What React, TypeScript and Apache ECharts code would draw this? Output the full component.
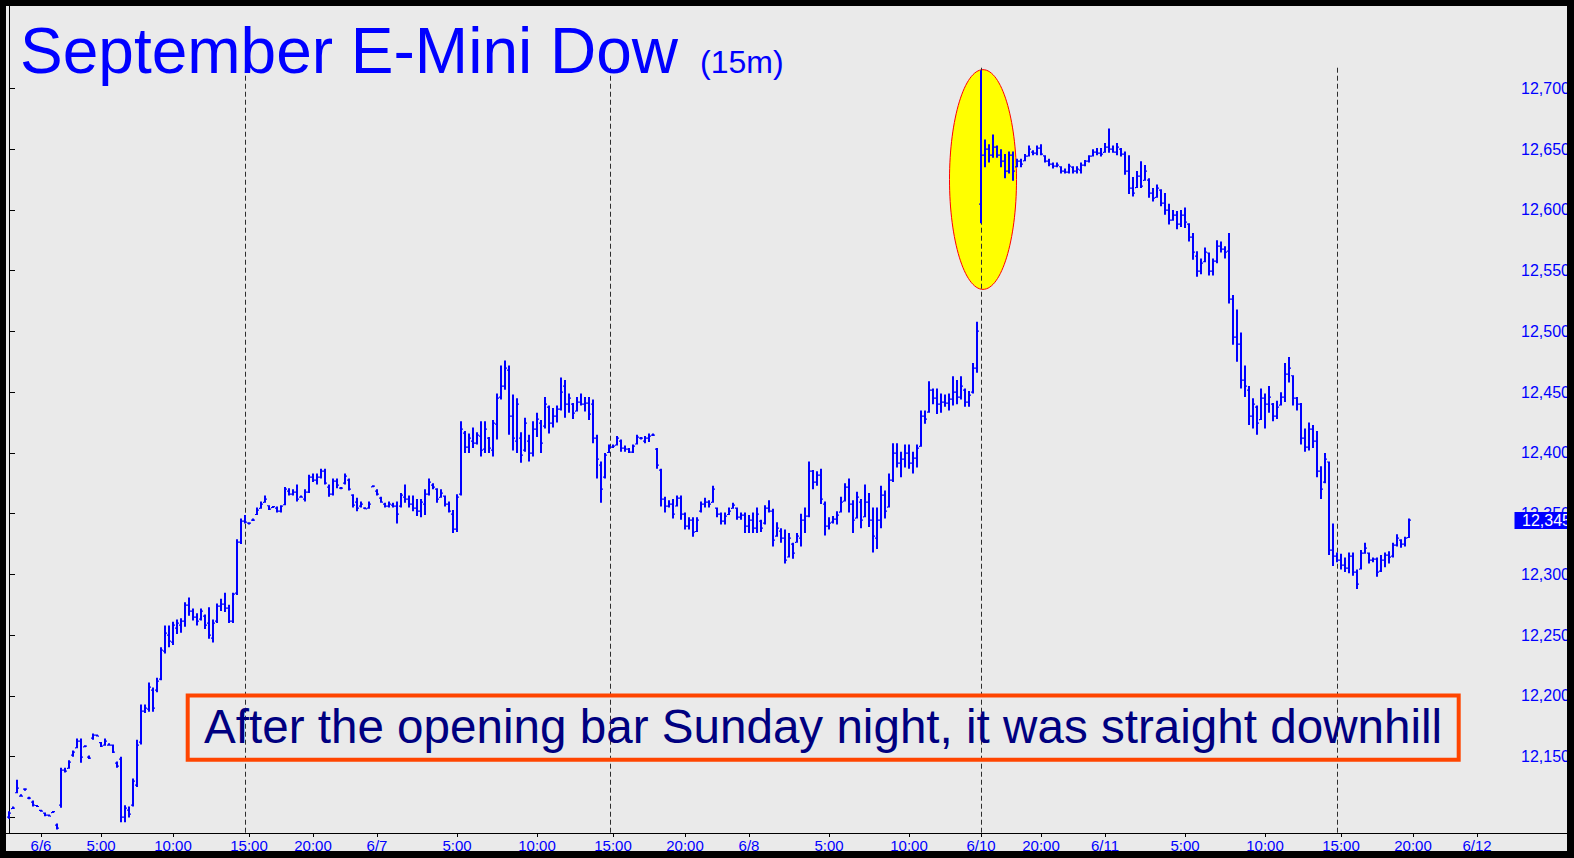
import React, { useEffect, useRef } from "react";
import * as echarts from "echarts";

// OHLC bars, 15-minute slots: [open, high, low, close]
const jun6Bars: number[][] = [
  [12100,12105,12099,12104],[12107,12109,12107,12108],[12120,12131,12120,12124],[12118,12119,12117,12118],
  [12123,12124,12122,12123],[12116,12117,12115,12116],[12113,12114,12109,12110],[12110,12110,12109,12109],
  [12106,12106,12105,12105],[12104,12104,12101,12102],[12102,12102,12101,12101],[12104,12105,12104,12105],
  [12094,12095,12090,12091],[12110,12141,12108,12139],[12139,12141,12137,12138],[12140,12147,12140,12146],
  [12151,12155,12150,12154],[12157,12165,12157,12163],[12163,12165,12145,12150],[12158,12159,12158,12159],
  [12150,12151,12148,12149],[12165,12169,12164,12168],[12168,12168,12167,12167],[12162,12162,12158,12159],
  [12160,12165,12159,12163],[12160,12161,12159,12160],[12160,12160,12153,12154],[12145,12146,12141,12142],
  [12148,12150,12096,12100],[12100,12110,12096,12108],[12106,12109,12100,12103],[12110,12132,12109,12130],
  [12127,12164,12125,12160],[12162,12193,12160,12188],[12188,12193,12186,12190],[12189,12211,12187,12207],
  [12205,12207,12187,12190],[12205,12215,12203,12212],[12214,12240,12213,12238],[12237,12258,12235,12252],
  [12250,12258,12240,12245],[12244,12261,12242,12258],[12256,12263,12251,12260],[12258,12264,12252,12262],
  [12262,12277,12257,12275],[12275,12281,12266,12270],[12270,12272,12262,12265],[12265,12268,12258,12262],
  [12263,12272,12262,12270],[12266,12267,12255,12258],[12260,12273,12247,12250],[12248,12263,12244,12260],
  [12262,12276,12260,12274],[12274,12280,12270,12276],[12276,12285,12269,12272],[12272,12275,12260,12262],
  [12262,12285,12260,12284],[12285,12329,12283,12327],[12327,12346,12325,12344],[12344,12349,12342,12343],
  [12342,12343,12341,12342],[12345,12346,12344,12345],[12349,12355,12349,12353],[12354,12360,12354,12358],
  [12359,12365,12359,12362],[12357,12357,12353,12354],[12355,12356,12355,12356],[12355,12356,12351,12352],
  [12352,12357,12351,12356],[12357,12372,12357,12370],[12369,12371,12365,12366],[12366,12370,12365,12368],
  [12368,12374,12360,12362],[12364,12365,12363,12364],[12362,12370,12360,12368],[12368,12382,12367,12380],
  [12380,12383,12376,12378],[12378,12383,12374,12380],[12380,12387,12379,12385],[12385,12387,12374,12375],
  [12372,12374,12364,12366],[12366,12379,12365,12377],[12377,12379,12371,12374],[12371,12372,12370,12371],
  [12375,12383,12374,12381],[12378,12379,12369,12370],[12365,12366,12355,12357],[12360,12363,12352,12355],
  [12356,12360,12355,12358],[12355,12355,12354,12354],[12355,12360,12354,12358],[12372,12373,12372,12373],
];

const jun7Bars: number[][] = [
  [12369,12370,12365,12366],[12363,12364,12359,12360],[12358,12359,12355,12356],[12356,12360,12355,12358],
  [12357,12359,12355,12356],[12356,12360,12342,12350],[12356,12367,12355,12365],[12364,12374,12359,12362],
  [12362,12365,12355,12358],[12358,12365,12352,12355],[12355,12362,12348,12352],[12352,12362,12347,12360],
  [12358,12370,12349,12366],[12366,12379,12365,12376],[12374,12375,12370,12372],[12370,12371,12359,12362],
  [12363,12370,12363,12367],[12365,12365,12356,12358],[12358,12360,12351,12352],[12350,12353,12334,12337],
  [12337,12366,12335,12364],[12366,12426,12365,12420],[12416,12418,12400,12405],[12405,12416,12400,12412],
  [12410,12421,12404,12408],[12408,12417,12407,12415],[12414,12426,12397,12402],[12403,12426,12400,12420],
  [12412,12413,12400,12404],[12402,12427,12397,12425],[12424,12449,12411,12445],[12446,12472,12444,12455],
  [12455,12476,12452,12470],[12468,12472,12415,12430],[12430,12448,12402,12412],[12410,12445,12400,12440],
  [12412,12417,12392,12398],[12402,12429,12401,12425],[12410,12415,12393,12400],[12400,12426,12397,12420],
  [12420,12433,12413,12428],[12425,12427,12400,12408],[12422,12446,12420,12440],[12438,12439,12416,12425],
  [12425,12437,12421,12430],[12430,12439,12425,12436],[12436,12462,12435,12450],[12455,12460,12429,12440],
  [12440,12449,12433,12445],[12440,12441,12428,12433],[12434,12446,12434,12442],[12442,12449,12439,12440],
  [12440,12446,12434,12441],[12441,12446,12427,12432],[12440,12444,12408,12412],[12412,12415,12379,12395],
  [12390,12393,12359,12370],[12380,12400,12379,12398],[12400,12407,12400,12405],[12405,12407,12404,12406],
  [12406,12414,12406,12412],[12410,12411,12401,12404],[12404,12406,12401,12403],[12403,12404,12400,12401],
  [12401,12407,12400,12406],[12407,12415,12407,12413],[12412,12413,12411,12412],[12410,12414,12408,12412],
  [12412,12416,12409,12414],[12415,12416,12414,12415],[12403,12404,12387,12390],[12386,12387,12356,12362],
  [12362,12364,12351,12356],[12356,12361,12355,12358],[12358,12362,12346,12350],[12356,12365,12356,12363],
  [12363,12365,12345,12350],[12350,12351,12337,12340],[12340,12347,12337,12345],[12345,12347,12331,12335],
  [12335,12347,12335,12345],[12352,12360,12351,12358],[12358,12363,12355,12360],[12360,12361,12355,12358],
  [12359,12373,12359,12370],[12355,12355,12347,12350],[12350,12351,12341,12344],[12344,12351,12341,12348],
  [12349,12355,12349,12352],[12354,12359,12354,12357],[12355,12355,12345,12347],[12347,12351,12345,12349],
  [12349,12351,12334,12340],
];

const jun8Bars: number[][] = [
  [12340,12349,12334,12345],[12345,12351,12334,12338],[12338,12355,12334,12350],[12344,12345,12335,12338],
  [12342,12357,12341,12355],[12355,12361,12351,12352],[12352,12354,12323,12328],[12332,12343,12331,12338],
  [12336,12338,12326,12330],[12330,12337,12309,12312],[12314,12334,12314,12330],[12325,12326,12313,12318],
  [12326,12334,12326,12332],[12330,12350,12323,12345],[12345,12355,12334,12348],[12348,12393,12347,12385],
  [12385,12386,12370,12376],[12376,12385,12373,12382],[12382,12387,12358,12362],[12358,12360,12332,12340],
  [12340,12347,12337,12342],[12343,12348,12342,12346],[12346,12352,12341,12349],[12351,12364,12351,12360],
  [12360,12375,12360,12372],[12372,12379,12351,12358],[12358,12361,12334,12345],[12346,12368,12346,12364],
  [12360,12362,12338,12345],[12347,12374,12347,12360],[12360,12367,12339,12345],[12345,12355,12318,12332],
  [12330,12355,12321,12345],[12345,12373,12338,12365],[12365,12369,12346,12352],[12355,12383,12355,12378],
  [12378,12408,12376,12400],[12400,12408,12388,12392],[12392,12401,12380,12395],[12395,12407,12388,12400],
  [12400,12407,12387,12392],[12392,12401,12383,12396],[12396,12407,12388,12404],[12405,12435,12405,12430],
  [12430,12435,12424,12428],[12434,12459,12433,12452],[12452,12453,12440,12445],[12445,12453,12432,12440],
  [12440,12449,12433,12442],[12442,12448,12438,12441],[12441,12449,12435,12444],[12444,12463,12439,12450],
  [12450,12460,12440,12446],[12446,12463,12444,12455],[12452,12453,12438,12442],[12442,12451,12438,12448],
  [12450,12474,12449,12470],[12470,12508,12466,12500],
];

const jun10Bars: number[][] = [
  [12605,12715,12589,12645],[12645,12658,12635,12650],[12650,12654,12639,12645],[12645,12662,12643,12652],
  [12652,12653,12643,12645],[12645,12650,12635,12640],[12640,12646,12626,12632],[12632,12648,12630,12645],
  [12645,12648,12624,12632],[12635,12642,12635,12640],[12640,12642,12635,12638],[12640,12646,12640,12644],
  [12644,12653,12644,12650],[12648,12649,12645,12647],[12647,12653,12645,12651],[12651,12654,12645,12646],
  [12645,12645,12639,12640],[12640,12642,12636,12638],[12638,12639,12634,12636],[12636,12639,12635,12637],
  [12636,12636,12630,12632],[12632,12634,12630,12631],[12631,12638,12630,12636],[12635,12636,12630,12632],
  [12632,12636,12630,12634],[12633,12639,12630,12637],[12637,12641,12636,12640],[12640,12645,12639,12644],
  [12644,12650,12644,12648],[12648,12651,12645,12647],[12647,12651,12644,12646],[12647,12655,12647,12652],
  [12652,12667,12647,12650],[12650,12653,12647,12648],[12648,12655,12645,12652],[12650,12651,12644,12646],
  [12646,12648,12629,12632],[12632,12645,12613,12618],[12618,12627,12611,12614],[12618,12632,12618,12628],
  [12628,12640,12618,12620],[12624,12637,12624,12632],[12625,12626,12610,12614],[12614,12618,12607,12610],
  [12610,12621,12610,12618],[12616,12617,12603,12606],[12606,12614,12596,12600],[12600,12605,12588,12592],
  [12592,12600,12591,12596],[12596,12599,12584,12588],[12588,12600,12586,12596],[12596,12602,12585,12590],
  [12588,12589,12574,12578],[12578,12581,12559,12565],[12562,12566,12545,12550],[12550,12560,12547,12556],
  [12557,12569,12557,12565],[12565,12565,12546,12550],[12550,12560,12546,12558],[12558,12575,12556,12570],
  [12570,12574,12565,12568],[12568,12570,12560,12565],[12566,12581,12523,12527],[12527,12530,12489,12495],
  [12495,12518,12475,12490],[12490,12499,12453,12460],[12460,12472,12446,12455],[12452,12455,12423,12430],
  [12430,12445,12420,12440],[12438,12439,12415,12425],[12427,12453,12427,12445],[12445,12449,12420,12440],
  [12440,12455,12433,12446],[12440,12441,12426,12430],[12430,12443,12428,12438],[12439,12450,12439,12446],
  [12446,12474,12442,12465],[12465,12479,12458,12470],[12464,12464,12439,12445],[12445,12446,12435,12440],
  [12440,12441,12407,12412],[12412,12420,12401,12405],[12405,12425,12402,12420],[12420,12423,12404,12410],
  [12410,12418,12380,12385],[12385,12389,12362,12370],[12376,12400,12375,12395],[12393,12393,12316,12320],
  [12320,12342,12307,12315],[12315,12318,12310,12312],[12312,12317,12304,12308],[12308,12314,12302,12305],
  [12305,12318,12301,12315],[12315,12318,12299,12302],[12302,12304,12288,12292],[12304,12320,12304,12318],
  [12318,12326,12317,12322],[12318,12318,12309,12312],[12312,12314,12310,12313],[12313,12314,12298,12302],
  [12303,12316,12302,12312],[12312,12318,12306,12316],[12316,12319,12309,12314],[12315,12326,12314,12324],
  [12324,12333,12323,12330],[12328,12329,12322,12325],[12325,12331,12323,12330],[12330,12346,12330,12345],
];

// axis annotations (x values are bar-slot numbers)
const xTickSlots = [8, 23, 41, 60, 76, 92, 112, 132, 151, 169, 185, 205, 225, 243, 258, 274, 294, 314, 333, 351, 367];
const xTickLabels = ["6/6", "5:00", "10:00", "15:00", "20:00", "6/7", "5:00", "10:00", "15:00", "20:00", "6/8", "5:00", "10:00", "6/10", "20:00", "6/11", "5:00", "10:00", "15:00", "20:00", "6/12"];
const sessionBreaks = [59.1, 150.2, 243.1, 332.1];
const yTickValues = [12100, 12150, 12200, 12250, 12300, 12350, 12400, 12450, 12500, 12550, 12600, 12650, 12700];
const yLabelValues = [12150, 12200, 12250, 12300, 12350, 12400, 12450, 12500, 12550, 12600, 12650, 12700];

const titleText = "September E-Mini Dow";
const subTitleText = "(15m)";
const noteText = "After the opening bar Sunday night, it was straight downhill";
const highlightSlot = 243.5;
const highlightTop = 12715;
const highlightMid = 12625;

const BLUE = "#0000FF";
const FONT = '"Liberation Sans", Arial, sans-serif';
const Y_MIN = 12087.2;
const Y_MAX = 12767.8;

export default function App() {
  const ref = useRef<HTMLDivElement>(null);

  useEffect(() => {
    if (!ref.current) return;
    const chart = echarts.init(ref.current, null, { renderer: "svg" });
    const allBars = [...jun6Bars, ...jun7Bars, ...jun8Bars, ...jun10Bars];
    const data = allBars.map((b, i) => [i, b[0], b[1], b[2], b[3]]);
    const lastClose = allBars[allBars.length - 1][3];

    chart.setOption({
      animation: false,
      backgroundColor: "#EAEAEA",
      grid: { left: 0, right: 53, top: 0, bottom: 18, containLabel: false, outerBoundsMode: "none" },
      xAxis: {
        type: "value",
        min: -0.75,
        max: 376.25,
        axisLine: { show: true, lineStyle: { color: "#000", width: 1 } },
        axisTick: { show: true, length: 4, customValues: xTickSlots, lineStyle: { color: "#000" } },
        axisLabel: {
          customValues: xTickSlots,
          formatter: (v: number) => {
            const k = xTickSlots.indexOf(v);
            return k >= 0 ? xTickLabels[k] : "";
          },
          color: BLUE,
          fontFamily: FONT,
          fontSize: 15,
          margin: 5,
          hideOverlap: false,
        },
        splitLine: { show: false },
      },
      yAxis: {
        type: "value",
        position: "right",
        min: Y_MIN,
        max: Y_MAX,
        axisLine: { show: true, lineStyle: { color: "#000", width: 1 } },
        axisTick: { show: true, length: 6, customValues: yTickValues, lineStyle: { color: "#000" } },
        axisLabel: {
          customValues: yLabelValues,
          formatter: (v: number) => v.toLocaleString("en-US"),
          color: BLUE,
          fontFamily: FONT,
          fontSize: 16,
          margin: 7,
          align: "left",
        },
        splitLine: { show: false },
      },
      series: [
        {
          type: "custom",
          z: 5,
          clip: true,
          encode: { x: 0, y: [1, 2, 3, 4] },
          data,
          renderItem: (params: any, api: any) => {
            const x = api.value(0);
            const pH = api.coord([x, api.value(2)]);
            const pL = api.coord([x, api.value(3)]);
            const pO = api.coord([x, api.value(1)]);
            const pC = api.coord([x, api.value(4)]);
            const cx = Math.round(pH[0]);
            let top = pH[1];
            let bot = pL[1];
            if (bot - top < 2) {
              const m = (top + bot) / 2;
              top = m - 1;
              bot = m + 1;
            }
            const oy = Math.min(Math.max(Math.round(pO[1]) - 0.5, top), bot - 1);
            const cy = Math.min(Math.max(Math.round(pC[1]) - 0.5, top), bot - 1);
            return {
              type: "group",
              children: [
                { type: "rect", shape: { x: cx - 1, y: top, width: 2, height: bot - top }, style: { fill: BLUE } },
                { type: "rect", shape: { x: cx - 2, y: oy, width: 1, height: 1.2 }, style: { fill: BLUE } },
                { type: "rect", shape: { x: cx + 1, y: cy, width: 1, height: 1.2 }, style: { fill: BLUE } },
              ],
            };
          },
          markLine: {
            silent: true,
            symbol: ["none", "none"],
            label: { show: false },
            lineStyle: { color: "#2e2e2e", type: [5, 3], width: 1 },
            data: sessionBreaks.map((s) => [{ coord: [s, 12717] }, { coord: [s, Y_MIN] }]),
          },
        },
      ],
    });

    const c = chart.convertToPixel({ gridIndex: 0 }, [highlightSlot, highlightMid]) as number[];
    const t = chart.convertToPixel({ gridIndex: 0 }, [highlightSlot, highlightTop]) as number[];
    const tag = chart.convertToPixel({ gridIndex: 0 }, [0, lastClose]) as number[];
    const ry = c[1] - t[1] + 0.5;

    chart.setOption({
      graphic: [
        {
          id: "hl",
          type: "ellipse",
          z: 1,
          silent: true,
          shape: { cx: c[0], cy: c[1], rx: 33.5, ry },
          style: { fill: "#FFFF00", stroke: "#FF0000", lineWidth: 1 },
        },
        {
          id: "axisExt",
          type: "rect",
          z: 1,
          silent: true,
          shape: { x: 1508, y: 827, width: 60, height: 1 },
          style: { fill: "#000" },
        },
        {
          id: "tagBox",
          type: "rect",
          z: 10,
          silent: true,
          shape: { x: 1508.5, y: Math.round(tag[1]) - 8, width: 60, height: 17 },
          style: { fill: "#0000FF" },
        },
        {
          id: "tagText",
          type: "text",
          z: 11,
          silent: true,
          x: 1516,
          y: Math.round(tag[1]) + 0.5,
          style: { text: lastClose.toLocaleString("en-US"), fill: "#FFFFFF", font: `16px ${FONT}`, textAlign: "left", textVerticalAlign: "middle" },
        },
        {
          id: "title",
          type: "text",
          z: 10,
          silent: true,
          x: 14,
          y: 45,
          style: { text: titleText, fill: BLUE, font: `64px ${FONT}`, textAlign: "left", textVerticalAlign: "middle" },
        },
        {
          id: "subtitle",
          type: "text",
          z: 10,
          silent: true,
          x: 694,
          y: 55.5,
          style: { text: subTitleText, fill: BLUE, font: `32px ${FONT}`, textAlign: "left", textVerticalAlign: "middle" },
        },
        {
          id: "noteBox",
          type: "rect",
          z: 10,
          silent: true,
          shape: { x: 181.7, y: 689.4, width: 1271, height: 64.3 },
          style: { fill: "transparent", stroke: "#FF4500", lineWidth: 4 },
        },
        {
          id: "noteText",
          type: "text",
          z: 10,
          silent: true,
          x: 198,
          y: 720.7,
          style: { text: noteText, fill: "#000080", font: `47.6px ${FONT}`, textAlign: "left", textVerticalAlign: "middle" },
        },
      ],
    });

    return () => chart.dispose();
  }, []);

  return (
    <div style={{ position: "absolute", left: 0, top: 0, width: 1574, height: 858, background: "#000", overflow: "hidden" }}>
      <div ref={ref} style={{ position: "absolute", left: 6, top: 6, width: 1561, height: 845, background: "#EAEAEA" }} />
    </div>
  );
}
